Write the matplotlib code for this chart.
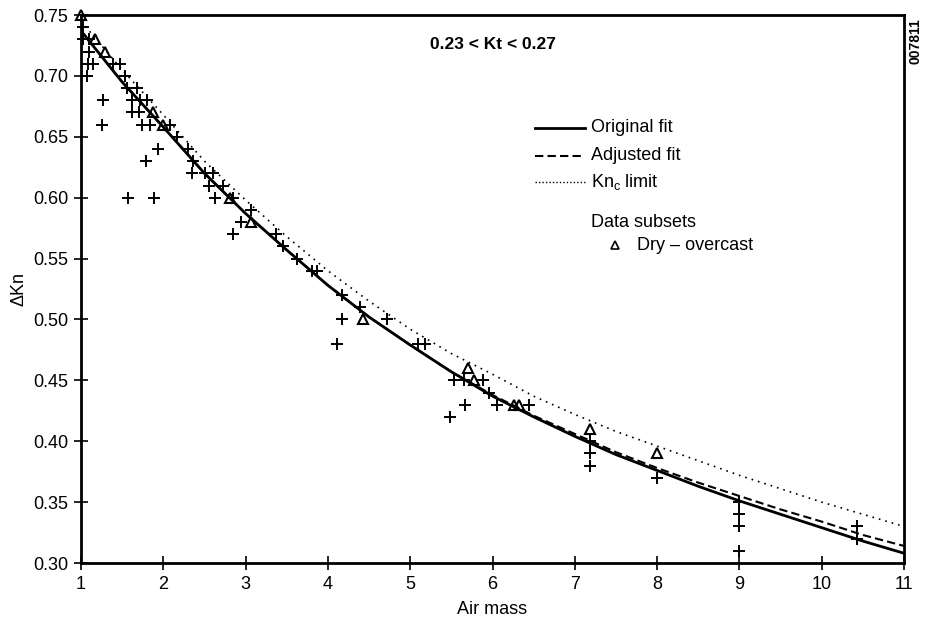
import matplotlib
matplotlib.use("Agg")
import matplotlib.pyplot as plt
import numpy as np

plt.rcParams['font.family'] = ['Liberation Sans', 'DejaVu Sans']

# ---- data ----
plus_x = [1.02, 1.03, 1.10, 1.10, 1.08, 1.15, 1.39, 1.47, 1.07, 1.53, 1.56, 1.68,
          1.27, 1.62, 1.72, 1.80, 1.62, 1.70, 1.74, 1.84, 2.08, 1.25, 2.17, 1.94,
          2.30, 1.79, 2.36, 2.35, 2.51, 2.60, 2.55, 2.73, 2.63, 2.85, 1.57, 1.89,
          3.06, 2.94, 2.85, 3.37, 3.45, 3.63, 3.81, 3.87, 4.17, 4.39, 4.72, 4.17,
          4.11, 5.10, 5.18, 5.53, 5.65, 5.88, 5.96, 5.66, 6.06, 6.44, 5.48, 7.18,
          7.18, 7.18, 8.00, 9.00, 9.00, 9.00, 9.00, 10.43, 10.43]
plus_y = [0.74, 0.73, 0.73, 0.72, 0.71, 0.71, 0.71, 0.71, 0.70, 0.70, 0.69, 0.69,
          0.68, 0.68, 0.68, 0.68, 0.67, 0.67, 0.66, 0.66, 0.66, 0.66, 0.65, 0.64,
          0.64, 0.63, 0.63, 0.62, 0.62, 0.62, 0.61, 0.61, 0.60, 0.60, 0.60, 0.60,
          0.59, 0.58, 0.57, 0.57, 0.56, 0.55, 0.54, 0.54, 0.52, 0.51, 0.50, 0.50,
          0.48, 0.48, 0.48, 0.45, 0.45, 0.45, 0.44, 0.43, 0.43, 0.43, 0.42, 0.40,
          0.39, 0.38, 0.37, 0.35, 0.34, 0.33, 0.31, 0.33, 0.32]

tri_x = [1.00, 1.17, 1.29, 1.88, 2.00, 2.81, 3.06, 4.43, 5.70, 5.77, 6.26, 6.32, 7.18, 8.00]
tri_y = [0.75, 0.73, 0.72, 0.67, 0.66, 0.60, 0.58, 0.50, 0.46, 0.45, 0.43, 0.43, 0.41, 0.39]

curve_x = [1.0, 1.5, 2.0, 2.5, 3.0, 3.5, 4.0, 4.5, 5.0, 5.5, 6.0,
           6.5, 7.0, 7.5, 8.0, 8.5, 9.0, 9.5, 10.0, 10.5, 11.0]
original_fit = [0.737, 0.695, 0.658, 0.620, 0.587, 0.557, 0.528, 0.502, 0.479, 0.457, 0.437,
                0.420, 0.404, 0.389, 0.376, 0.363, 0.351, 0.340, 0.329, 0.318, 0.308]
adjusted_fit = [0.737, 0.695, 0.658, 0.620, 0.587, 0.557, 0.528, 0.502, 0.479, 0.457, 0.438,
                0.421, 0.406, 0.391, 0.378, 0.366, 0.355, 0.344, 0.334, 0.323, 0.314]
knc_limit = [0.745, 0.705, 0.668, 0.630, 0.598, 0.568, 0.540, 0.515, 0.492, 0.472, 0.455,
             0.437, 0.422, 0.408, 0.396, 0.384, 0.372, 0.361, 0.350, 0.340, 0.330]

x_ticks = [1, 2, 3, 4, 5, 6, 7, 8, 9, 10, 11]
y_ticks = [0.30, 0.35, 0.40, 0.45, 0.50, 0.55, 0.60, 0.65, 0.70, 0.75]

# ---- figure ----
fig = plt.figure(figsize=(9.29, 6.26), dpi=100)
ax = fig.add_axes([0.0872, 0.1006, 0.886, 0.8754])

ax.plot(curve_x, original_fit, color='black', lw=2.0, solid_capstyle='butt')
ax.plot(curve_x, adjusted_fit, color='black', lw=1.5, linestyle=(0, (4, 2)))
ax.plot(curve_x, knc_limit, color='black', lw=1.2, linestyle=(0, (1, 3)))

ax.plot(plus_x, plus_y, linestyle='none', marker='+', markersize=8, mew=1.4, color='black',
        clip_on=False)
ax.plot(tri_x, tri_y, linestyle='none', marker='^', markersize=7, mew=1.5,
        markerfacecolor='none', markeredgecolor='black', clip_on=False)

ax.set_xlim(1, 11)
ax.set_ylim(0.30, 0.75)
ax.set_xticks(x_ticks)
ax.set_yticks(y_ticks)
ax.set_xticklabels([str(t) for t in x_ticks])
ax.set_yticklabels([f"{t:.2f}" for t in y_ticks])
ax.tick_params(direction='inout', length=10, width=1.2, labelsize=13, pad=4)

for s in ax.spines.values():
    s.set_linewidth(2.0)

ax.set_xlabel('Air mass', fontsize=13, labelpad=6)
ax.set_ylabel('ΔKn', fontsize=13, labelpad=4)

ax.text(0.5, 0.947, '0.23 < Kt < 0.27', transform=ax.transAxes, ha='center', va='center',
        fontsize=12.5, fontweight='bold')

# legend (manual)
ax.plot([0.552, 0.612], [0.794, 0.794], transform=ax.transAxes, color='black', lw=2.0)
ax.plot([0.552, 0.612], [0.743, 0.743], transform=ax.transAxes, color='black', lw=1.5,
        linestyle=(0, (4, 2)))
ax.plot([0.552, 0.612], [0.695, 0.695], transform=ax.transAxes, color='black', lw=1.0,
        linestyle=(0, (1, 1.5)))
ax.text(0.620, 0.794, 'Original fit', transform=ax.transAxes, va='center', fontsize=13)
ax.text(0.620, 0.743, 'Adjusted fit', transform=ax.transAxes, va='center', fontsize=13)
ax.text(0.620, 0.695, 'Kn$_\\mathregular{c}$ limit', transform=ax.transAxes, va='center', fontsize=13)
ax.text(0.620, 0.622, 'Data subsets', transform=ax.transAxes, va='center', fontsize=13)
ax.plot([0.649], [0.580], transform=ax.transAxes, marker='^', markersize=6, mew=1.2,
        markerfacecolor='none', markeredgecolor='black', linestyle='none')
ax.text(0.676, 0.580, 'Dry – overcast', transform=ax.transAxes, va='center', fontsize=13)

fig.text(0.985, 0.935, '007811', rotation=90, ha='center', va='center',
         fontsize=10, fontweight='bold')

fig.savefig('out.png', dpi=100)
